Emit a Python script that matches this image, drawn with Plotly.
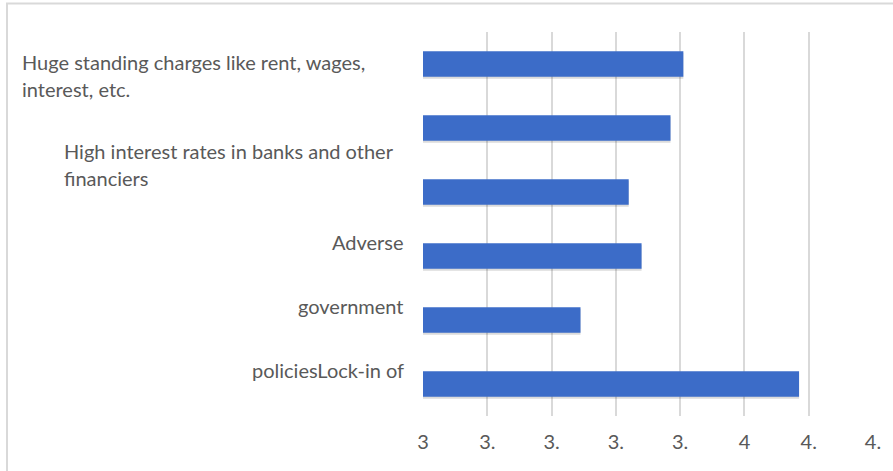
import plotly.graph_objects as go

# ---- data ----
categories = [
    "Huge standing charges like rent, wages, interest, etc.",
    "High interest rates in banks and other financiers",
    "Category 3",
    "Adverse",
    "government",
    "policiesLock-in of",
]
values = [3.81, 3.77, 3.64, 3.68, 3.49, 4.17]

tick_vals = [3.0, 3.2, 3.4, 3.6, 3.8, 4.0, 4.2, 4.4]
tick_text = ["3", "3.", "3.", "3.", "3.", "4", "4.", "4."]

label_lines = [
    "Huge standing charges like rent, wages,",
    "interest, etc.",
    "High interest rates in banks and other",
    "financiers",
    "Adverse",
    "government",
    "policiesLock-in of",
]

# ---- layout geometry (pixels) ----
W, H = 893, 471
L, R, T, B = 423, 20, 32, 55
PW, PH = W - L - R, H - T - B


def px(x):
    return (x - L) / PW


def py(y):
    return (H - B - y) / PH


FONT = "Lato"
GREY = "#595959"

fig = go.Figure()

# soft shadow under the bars
fig.add_trace(go.Bar(
    y=categories, x=[v - 3.0 for v in values], base=3.0, orientation="h",
    width=0.4, offset=-0.17,
    marker=dict(color="rgba(0,0,0,0.14)", line=dict(width=0)),
    hoverinfo="skip", showlegend=False,
))
fig.add_trace(go.Bar(
    y=categories, x=[v - 3.0 for v in values], base=3.0, orientation="h",
    width=0.4, offset=-0.2,
    marker=dict(color="#3c6cc8", line=dict(width=0)),
    showlegend=False,
))

# label annotations: (anchor, x pixel, y pixel centre)
label_pos = [
    ("left", 20, 62),
    ("left", 20, 89),
    ("left", 62, 151),
    ("left", 62, 178),
    ("right", 406, 242),
    ("right", 406, 306),
    ("right", 406, 370),
]
annotations = []
for text, (anchor, x, y) in zip(label_lines, label_pos):
    annotations.append(dict(
        text=text, xref="paper", yref="paper", x=px(x), y=py(y),
        xanchor=anchor, yanchor="middle", showarrow=False,
        font=dict(family=FONT, size=20, color=GREY),
    ))

fig.update_layout(
    width=W, height=H,
    margin=dict(l=L, r=R, t=T, b=B),
    paper_bgcolor="white", plot_bgcolor="white",
    barmode="overlay",
    annotations=annotations,
    shapes=[
        dict(
            type="rect", xref="paper", yref="paper",
            x0=px(7), x1=px(905), y0=py(3.5), y1=py(490),
            line=dict(color="#d9d9d9", width=2), layer="below",
        ),
        # hide the gridline at the axis origin (none is drawn there)
        dict(
            type="line", xref="paper", yref="paper",
            x0=0, x1=0, y0=-0.01, y1=1.01,
            line=dict(color="white", width=3), layer="between",
        ),
    ],
    xaxis=dict(
        range=[3.0, 4.4], tickvals=tick_vals, ticktext=tick_text,
        showgrid=True, gridcolor="#d9d9d9", gridwidth=1.5,
        zeroline=False, showline=False, ticks="",
        ticklabelstandoff=12,
        tickfont=dict(family=FONT, size=20, color=GREY),
    ),
    yaxis=dict(
        autorange="reversed", showticklabels=False, showgrid=False,
        zeroline=False, showline=False, ticks="",
    ),
)

fig.write_html("out.html")
